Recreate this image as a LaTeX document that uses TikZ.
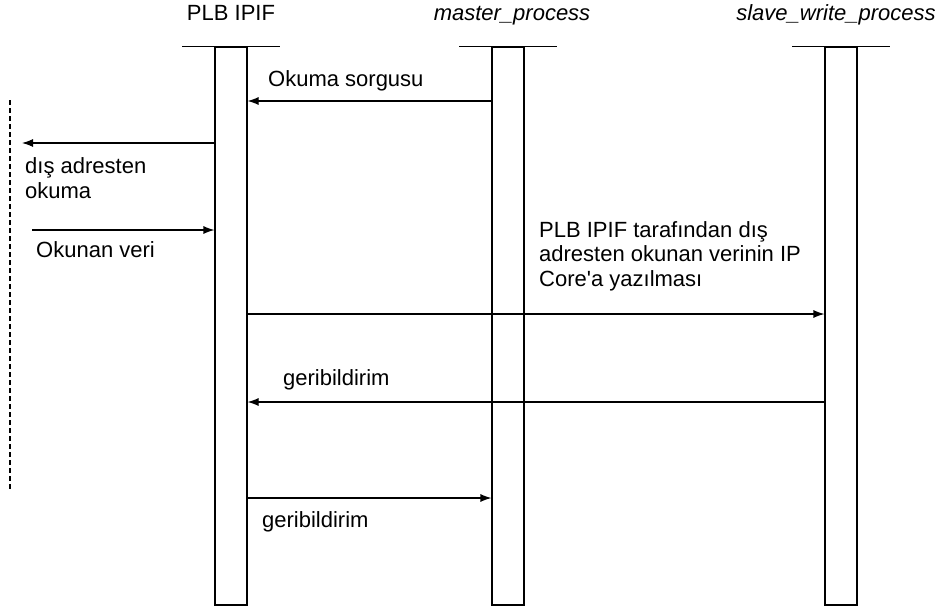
\documentclass[tikz,border=0pt]{standalone}
\usepackage{fontspec}
\setmainfont{Liberation Sans}
\usetikzlibrary{arrows.meta}
\tikzset{> = {Latex[length=11pt,width=8pt]},
	lifeline/.style={draw, line width=1.1pt, minimum width=32pt, minimum height=558pt, inner sep=0pt},
	msg/.style={->, line width=1.1pt},
	txt/.style={anchor=base west, inner sep=0pt, align=left, font=\fontsize{22}{24.5}\selectfont},
	title/.style={anchor=base, inner sep=0pt, font=\fontsize{22}{24}\selectfont}}

\begin{document}
\begin{tikzpicture}[x=1pt,y=-1pt]
		\useasboundingbox (0,0) rectangle (940,610);
		% lifelines
		\node[lifeline] (plb) at (231,326) {};
		\node[lifeline] (master) at (508,326) {};
		\node[lifeline] (slave) at (841,326) {};
		\foreach \b in {plb,master,slave}
			\draw[line width=1.1pt] ([xshift=-32pt]\b.north west) -- ([xshift=32pt]\b.north east);
		\node[title] (plbname) at (231,21) {PLB IPIF};
		\node[title] (mastername) at (512,21) {\itshape master\_process};
		\node[title] (slavename) at (836,21) {\itshape slave\_write\_process};
		% outside
		\draw[line width=1.1pt, dash pattern=on 5pt off 3pt] (10,100) -- (10,490);
		\coordinate (extout) at (22,143);
		\coordinate (extin) at (32,230);
		% messages
		\draw[msg] (master.west |- 0,101) -- (plb.east |- 0,101);
		\node[txt] (sorgu) at (268,87) {Okuma sorgusu};
		\draw[msg] (plb.west |- extout) -- (extout);
		\node[txt] (okuma) at (25,198) {dış adresten\\okuma};
		\draw[msg] (extin) -- (plb.west |- extin);
		\node[txt] (veri) at (36,257) {Okunan veri};
		\draw[msg] (plb.east |- 0,314) -- (slave.west |- 0,314);
		\node[txt] (yazma) at (539,286) {PLB IPIF tarafından dış\\adresten okunan verinin IP\\Core\textquotesingle a yazılması};
		\draw[msg] (slave.west |- 0,402) -- (plb.east |- 0,402);
		\node[txt] (geri1) at (283,385) {geribildirim};
		\draw[msg] (plb.east |- 0,498) -- (master.west |- 0,498);
		\node[txt] (geri2) at (262,527) {geribildirim};
\end{tikzpicture}
\end{document}
